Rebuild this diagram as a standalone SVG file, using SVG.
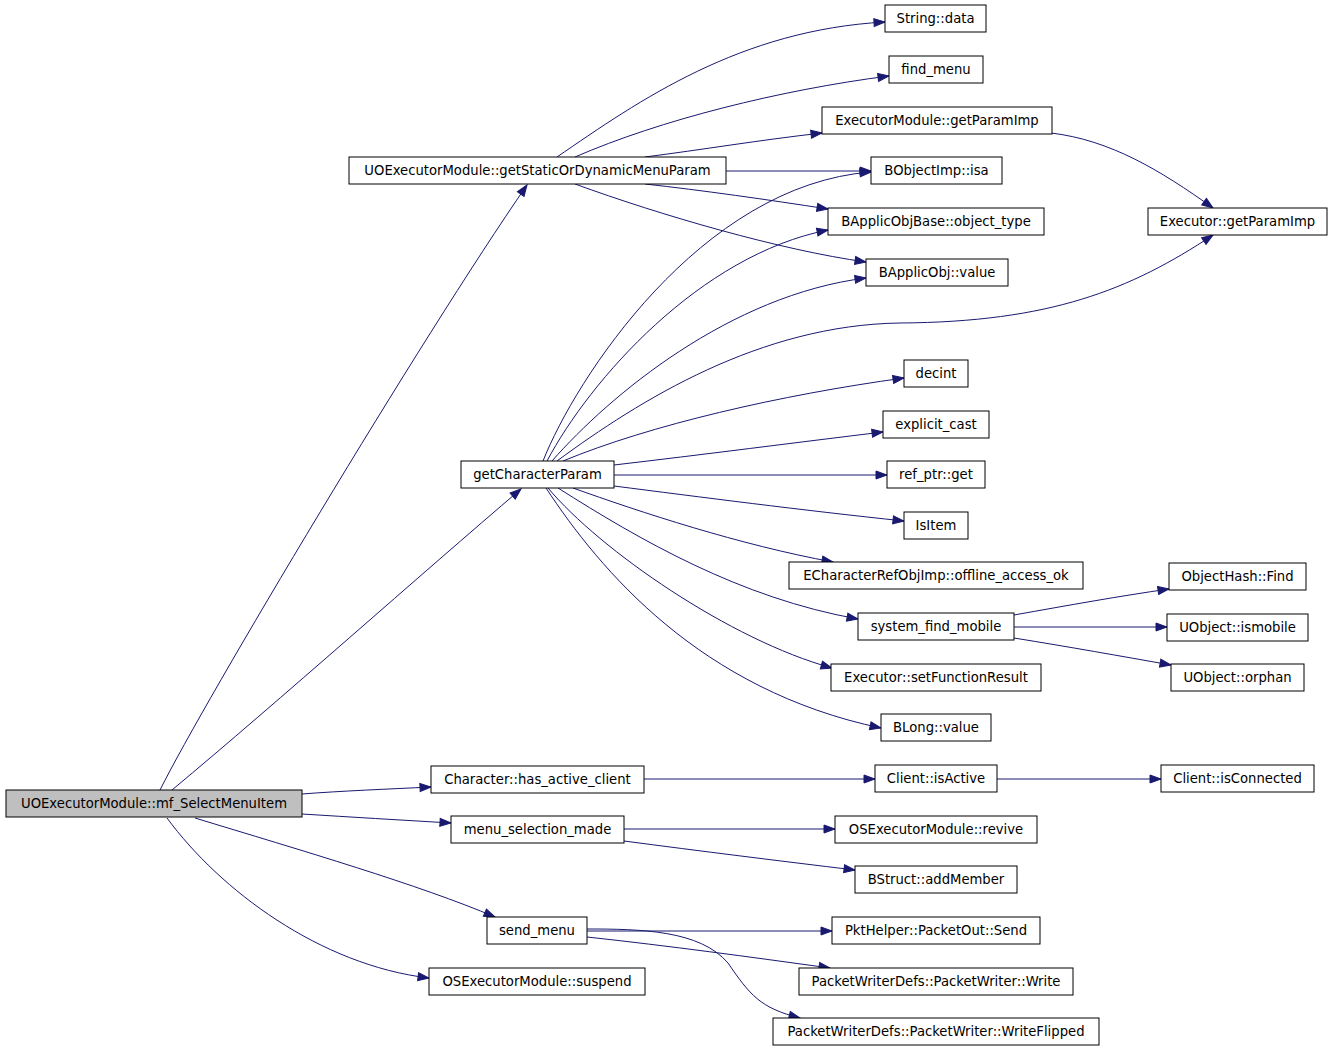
<svg xmlns="http://www.w3.org/2000/svg" width="1333" height="1051" viewBox="0 0 1333 1051">
<style>
.n rect{fill:#ffffff;stroke:#000000;stroke-width:1}
.n.root rect{fill:#bfbfbf}
.n text{font-family:"DejaVu Sans",sans-serif;font-size:13.2px;fill:#000000;text-anchor:middle}
#edges path{fill:none;stroke:#191970;stroke-width:1;marker-end:url(#ah)}
</style>
<defs>
<marker id="ah" markerUnits="userSpaceOnUse" markerWidth="12" markerHeight="9" refX="11" refY="4" orient="auto" overflow="visible">
<path d="M0,0 L11,4 L0,8 Z" fill="#191970" stroke="#191970" stroke-width="1"/>
</marker>
</defs>
<rect width="1333" height="1051" fill="#ffffff"/>
<g id="edges">
<path d="M160,790 C205,700 420,340 527,185"/>
<path d="M172,790 C280,700 420,575 521,489"/>
<path d="M302,794 C340,791 390,789 431,787"/>
<path d="M302,814 C350,817 400,820 451,823"/>
<path d="M195,818 C300,850 420,885 495,917"/>
<path d="M167,818 C220,890 320,965 429,978"/>
<path d="M557,157 C640,100 740,30 885,22"/>
<path d="M575,157 C660,120 780,90 889,76"/>
<path d="M645,157 C700,150 760,140 822,133"/>
<path d="M726,171 L871,171"/>
<path d="M645,184 C700,190 770,200 828,209"/>
<path d="M575,184 C660,215 780,250 866,262"/>
<path d="M1051,133 C1110,140 1160,170 1213,208"/>
<path d="M543,461 C575,380 700,185 871,172"/>
<path d="M547,461 C590,380 700,255 828,230"/>
<path d="M552,461 C610,395 730,295 866,278"/>
<path d="M557,461 C640,400 760,325 900,323 C1050,322 1130,290 1213,235"/>
<path d="M563,461 C650,425 780,395 904,378"/>
<path d="M614,465 C700,455 800,442 883,432"/>
<path d="M614,475 L887,475"/>
<path d="M614,486 C700,497 800,510 904,521"/>
<path d="M573,488 C640,512 740,545 833,562"/>
<path d="M558,488 C640,540 740,598 858,619"/>
<path d="M548,488 C600,550 730,640 832,668"/>
<path d="M546,488 C600,570 700,690 881,728"/>
<path d="M1014,615 C1070,605 1120,596 1169,589"/>
<path d="M1014,627 L1167,627"/>
<path d="M1014,638 C1070,647 1120,656 1171,665"/>
<path d="M644,779 L875,779"/>
<path d="M997,779 L1161,779"/>
<path d="M624,829 L835,829"/>
<path d="M624,841 C700,851 780,861 855,870"/>
<path d="M587,931 L832,931"/>
<path d="M587,937 C670,946 750,957 830,968"/>
<path d="M587,929 C640,929 700,930 728,963 C750,995 760,1008 800,1018"/>
</g>
<g id="n_root" class="n root"><rect x="6" y="790" width="296" height="27"/><text x="154" y="808">UOExecutorModule::mf_SelectMenuItem</text></g>
<g id="n_getStatic" class="n"><rect x="349" y="157" width="377" height="27"/><text x="537.5" y="175">UOExecutorModule::getStaticOrDynamicMenuParam</text></g>
<g id="n_getCharacterParam" class="n"><rect x="461" y="461" width="153" height="27"/><text x="537.5" y="479">getCharacterParam</text></g>
<g id="n_hasActiveClient" class="n"><rect x="431" y="766" width="213" height="27"/><text x="537.5" y="784">Character::has_active_client</text></g>
<g id="n_menuSelectionMade" class="n"><rect x="451" y="816" width="173" height="27"/><text x="537.5" y="834">menu_selection_made</text></g>
<g id="n_sendMenu" class="n"><rect x="487" y="917" width="100" height="27"/><text x="537" y="935">send_menu</text></g>
<g id="n_suspend" class="n"><rect x="429" y="968" width="216" height="27"/><text x="537" y="986">OSExecutorModule::suspend</text></g>
<g id="n_stringData" class="n"><rect x="885" y="5" width="101" height="27"/><text x="935.5" y="23">String::data</text></g>
<g id="n_findMenu" class="n"><rect x="889" y="56" width="94" height="27"/><text x="936" y="74">find_menu</text></g>
<g id="n_execModGetParamImp" class="n"><rect x="822" y="107" width="230" height="27"/><text x="937" y="125">ExecutorModule::getParamImp</text></g>
<g id="n_isa" class="n"><rect x="871" y="157" width="131" height="27"/><text x="936.5" y="175">BObjectImp::isa</text></g>
<g id="n_objectType" class="n"><rect x="828" y="208" width="216" height="27"/><text x="936" y="226">BApplicObjBase::object_type</text></g>
<g id="n_bapplicValue" class="n"><rect x="866" y="259" width="142" height="27"/><text x="937" y="277">BApplicObj::value</text></g>
<g id="n_execGetParamImp" class="n"><rect x="1148" y="208" width="179" height="27"/><text x="1237.5" y="226">Executor::getParamImp</text></g>
<g id="n_decint" class="n"><rect x="904" y="360" width="64" height="27"/><text x="936" y="378">decint</text></g>
<g id="n_explicitCast" class="n"><rect x="883" y="411" width="106" height="27"/><text x="936" y="429">explicit_cast</text></g>
<g id="n_refPtrGet" class="n"><rect x="887" y="461" width="98" height="27"/><text x="936" y="479">ref_ptr::get</text></g>
<g id="n_isItem" class="n"><rect x="904" y="512" width="64" height="27"/><text x="936" y="530">IsItem</text></g>
<g id="n_offlineAccess" class="n"><rect x="789" y="562" width="294" height="27"/><text x="936" y="580">ECharacterRefObjImp::offline_access_ok</text></g>
<g id="n_systemFindMobile" class="n"><rect x="858" y="613" width="156" height="27"/><text x="936" y="631">system_find_mobile</text></g>
<g id="n_setFunctionResult" class="n"><rect x="831" y="664" width="210" height="27"/><text x="936" y="682">Executor::setFunctionResult</text></g>
<g id="n_blongValue" class="n"><rect x="881" y="714" width="110" height="27"/><text x="936" y="732">BLong::value</text></g>
<g id="n_clientIsActive" class="n"><rect x="875" y="765" width="122" height="27"/><text x="936" y="783">Client::isActive</text></g>
<g id="n_revive" class="n"><rect x="835" y="816" width="202" height="27"/><text x="936" y="834">OSExecutorModule::revive</text></g>
<g id="n_addMember" class="n"><rect x="855" y="866" width="162" height="27"/><text x="936" y="884">BStruct::addMember</text></g>
<g id="n_send" class="n"><rect x="832" y="917" width="208" height="27"/><text x="936" y="935">PktHelper::PacketOut::Send</text></g>
<g id="n_write" class="n"><rect x="799" y="968" width="274" height="27"/><text x="936" y="986">PacketWriterDefs::PacketWriter::Write</text></g>
<g id="n_writeFlipped" class="n"><rect x="773" y="1018" width="326" height="27"/><text x="936" y="1036">PacketWriterDefs::PacketWriter::WriteFlipped</text></g>
<g id="n_objectHashFind" class="n"><rect x="1169" y="563" width="137" height="27"/><text x="1237.5" y="581">ObjectHash::Find</text></g>
<g id="n_ismobile" class="n"><rect x="1167" y="614" width="141" height="27"/><text x="1237.5" y="632">UObject::ismobile</text></g>
<g id="n_orphan" class="n"><rect x="1171" y="664" width="133" height="27"/><text x="1237.5" y="682">UObject::orphan</text></g>
<g id="n_isConnected" class="n"><rect x="1161" y="765" width="153" height="27"/><text x="1237.5" y="783">Client::isConnected</text></g>
</svg>
